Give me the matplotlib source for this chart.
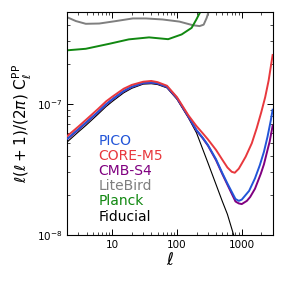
import matplotlib
matplotlib.use('Agg')
import matplotlib.pyplot as plt
from matplotlib.ticker import LogLocator, FixedLocator, FixedFormatter, NullFormatter

# multipoles and band powers
L_fid = [2, 3, 4, 6, 8, 10, 15, 20, 30, 40, 50, 70, 100, 150, 200, 300, 400, 500, 600, 750, 900]
C_fid = [5.1e-8, 6.1e-8, 6.9e-8, 8.3e-8, 9.5e-8, 1.04e-7, 1.21e-7, 1.31e-7, 1.41e-7, 1.42e-7,
         1.40e-7, 1.32e-7, 1.08e-7, 7.8e-8, 6.0e-8, 3.55e-8, 2.43e-8, 1.81e-8, 1.44e-8, 1.0e-8, 7.6e-9]

L_core = [2, 3, 4, 6, 8, 10, 15, 20, 30, 40, 50, 70, 100, 150, 200, 250, 300, 400, 500, 600, 700,
          780, 900, 1000, 1150, 1430, 1700, 2000, 2300, 2600, 3000]
C_core = [5.65e-8, 6.7e-8, 7.6e-8, 9.1e-8, 1.04e-7, 1.13e-7, 1.30e-7, 1.39e-7, 1.47e-7, 1.49e-7,
          1.46e-7, 1.37e-7, 1.12e-7, 8.15e-8, 6.75e-8, 5.95e-8, 5.35e-8, 4.45e-8, 3.75e-8, 3.27e-8,
          3.03e-8, 2.98e-8, 3.2e-8, 3.5e-8, 3.95e-8, 5.0e-8, 6.5e-8, 8.6e-8, 1.12e-7, 1.5e-7, 2.35e-7]

L_pico = [2, 3, 4, 6, 8, 10, 15, 20, 30, 40, 50, 70, 100, 150, 200, 250, 300, 400, 500, 600, 800,
          900, 1000, 1300, 1600, 1900, 2200, 2500, 2800, 3000]
C_pico = [5.4e-8, 6.4e-8, 7.25e-8, 8.65e-8, 9.9e-8, 1.08e-7, 1.25e-7, 1.345e-7, 1.44e-7, 1.45e-7,
          1.43e-7, 1.345e-7, 1.105e-7, 8.0e-8, 6.3e-8, 5.5e-8, 4.85e-8, 3.78e-8, 2.97e-8, 2.47e-8,
          1.88e-8, 1.82e-8, 1.86e-8, 2.17e-8, 2.7e-8, 3.4e-8, 4.3e-8, 5.6e-8, 7.4e-8, 9.0e-8]

L_s4 = [2, 3, 4, 6, 8, 10, 15, 20, 30, 40, 50, 70, 100, 150, 200, 250, 300, 400, 500, 600, 800,
        900, 1000, 1200, 1350, 1600, 1970, 2200, 2500, 2700, 3000]
C_s4 = [5.35e-8, 6.35e-8, 7.2e-8, 8.6e-8, 9.85e-8, 1.075e-7, 1.245e-7, 1.34e-7, 1.435e-7, 1.445e-7,
        1.425e-7, 1.34e-7, 1.1e-7, 7.95e-8, 6.25e-8, 5.45e-8, 4.8e-8, 3.72e-8, 2.92e-8, 2.42e-8,
        1.8e-8, 1.74e-8, 1.72e-8, 1.82e-8, 1.95e-8, 2.25e-8, 2.93e-8, 3.45e-8, 4.44e-8, 5.15e-8, 6.8e-8]

L_planck = [2, 3.9, 9, 18, 37, 73, 118, 168, 199, 225, 250]
C_planck = [2.55e-7, 2.62e-7, 2.86e-7, 3.09e-7, 3.2e-7, 3.1e-7, 3.37e-7, 3.78e-7, 4.38e-7, 4.92e-7, 6e-7]

L_lite = [2, 2.74, 3.9, 6.3, 11.4, 20.7, 33, 60, 109, 176, 223, 258, 287, 304, 330]
C_lite = [4.56e-7, 4.26e-7, 4.06e-7, 4.08e-7, 4.26e-7, 4.46e-7, 4.46e-7, 4.38e-7, 4.22e-7,
          3.96e-7, 3.9e-7, 4.0e-7, 4.5e-7, 4.92e-7, 6e-7]

xticks = [10, 100, 1000]
xtick_labels = ['10', '100', '1000']

fig = plt.figure(figsize=(2.84, 2.84), dpi=100)
ax = fig.add_axes([0.236, 0.1725, 0.724, 0.7855])

ax.plot(L_fid, C_fid, color='black', lw=0.8, zorder=1)
ax.plot(L_s4, C_s4, color='#800080', lw=1.4, zorder=2)
ax.plot(L_pico, C_pico, color='#2255d8', lw=1.4, zorder=3)
ax.plot(L_core, C_core, color='#e8383d', lw=1.4, zorder=3)
ax.plot(L_lite, C_lite, color='#7f7f7f', lw=1.4, zorder=2)
ax.plot(L_planck, C_planck, color='#118811', lw=1.4, zorder=2)

ax.set_xscale('log')
ax.set_yscale('log')
ax.set_xlim(2, 3000)
ax.set_ylim(1e-8, 5e-7)

ax.xaxis.set_major_locator(FixedLocator(xticks))
ax.xaxis.set_major_formatter(FixedFormatter(xtick_labels))
ax.xaxis.set_minor_locator(LogLocator(base=10, subs=range(2, 10)))
ax.xaxis.set_minor_formatter(NullFormatter())
ax.yaxis.set_minor_locator(LogLocator(base=10, subs=range(2, 10)))
ax.yaxis.set_minor_formatter(NullFormatter())

ax.tick_params(which='both', direction='in', top=True, right=True, labelsize=7.5)
ax.tick_params(which='major', length=4, width=0.7)
ax.tick_params(which='minor', length=2, width=0.5)

ax.set_xlabel(r'$\ell$', fontsize=12, labelpad=1)
ax.set_ylabel(r'$\ell(\ell+1)/(2\pi)\ \mathrm{C}_\ell^{\rm PP}$', fontsize=11, labelpad=2)

# legend: coloured text only, in the order of the reference
names = ['PICO', 'CORE-M5', 'CMB-S4', 'LiteBird', 'Planck', 'Fiducial']
colors = ['#2255d8', '#e8383d', '#800080', '#7f7f7f', '#118811', 'black']
handles = [plt.Line2D([], [], color=c, lw=0) for c in colors]
leg = ax.legend(handles, names, loc='lower left', bbox_to_anchor=(0.12, 0.02),
                frameon=False, fontsize=10, handlelength=0, handletextpad=0,
                labelspacing=0.08, borderpad=0)
for txt, c in zip(leg.get_texts(), colors):
    txt.set_color(c)

fig.savefig('out.png', dpi=100)
